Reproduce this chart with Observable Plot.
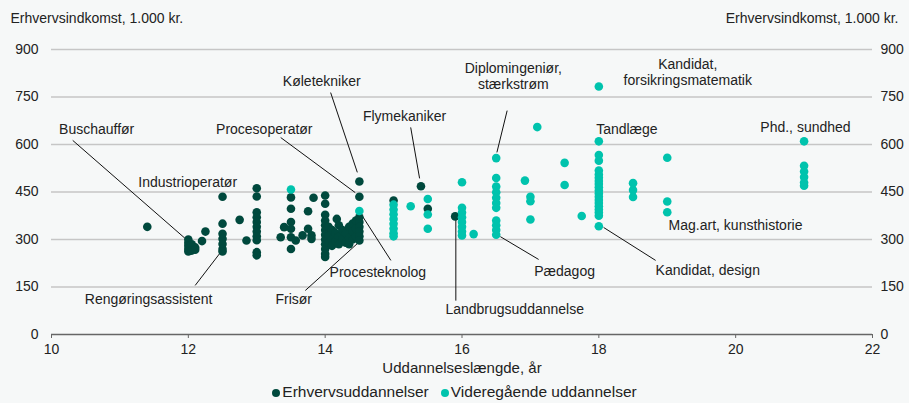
<!DOCTYPE html>
<html>
<head>
<meta charset="utf-8">
<script src="https://cdn.jsdelivr.net/npm/d3@7"></script>
<script src="https://cdn.jsdelivr.net/npm/@observablehq/plot@0.6"></script>
<style>
  html, body { margin: 0; padding: 0; background: #f6f8f8; }
  body { width: 909px; height: 403px; overflow: hidden; font-family: "Liberation Sans", Arial, sans-serif; }
  #legend { height: 23px; display: flex; justify-content: center; align-items: center; font-size: 15.5px; color: #222; gap: 12px; }
  #legend span.dot { display: inline-block; width: 8px; height: 8px; border-radius: 50%; margin-right: 2px; }
</style>
</head>
<body>
<div id="chart"></div>
<div id="legend"></div>
<script>
// ---- data ----
const seriesNames = ["Erhvervsuddannelser", "Videregående uddannelser"];
const seriesColors = ["#00493d", "#00c3ad"];

const xTicks = [10, 12, 14, 16, 18, 20, 22];
const yTicks = [0, 150, 300, 450, 600, 750, 900];

// [uddannelseslængde (år), erhvervsindkomst (1.000 kr.)]
const erhvervsuddannelser = [
  [11.4, 340],
  [12.0, 300], [12.0, 290], [12.0, 280], [12.0, 270], [12.0, 262],
  [12.05, 285], [12.05, 265], [12.1, 275], [12.1, 268], [12.2, 295], [12.25, 325],
  [12.5, 435], [12.5, 350], [12.5, 318], [12.5, 302], [12.5, 286], [12.5, 270], [12.5, 262],
  [12.75, 362], [12.85, 297],
  [13.0, 462], [13.0, 436], [13.0, 386], [13.0, 370], [13.0, 355], [13.0, 340], [13.0, 325], [13.0, 310], [13.0, 298], [13.0, 260], [13.0, 250],
  [13.35, 307], [13.4, 339],
  [13.5, 433], [13.5, 397], [13.5, 355], [13.5, 334], [13.5, 307], [13.5, 270],
  [13.57, 297], [13.67, 313], [13.75, 389], [13.75, 334], [13.8, 313], [13.8, 302], [13.83, 432],
  [14.0, 439], [14.0, 413], [14.0, 378], [14.0, 360], [14.0, 345], [14.0, 330], [14.0, 315], [14.0, 300], [14.0, 285], [14.0, 270], [14.0, 255], [14.0, 245],
  [14.05, 340], [14.05, 310], [14.05, 290], [14.1, 330], [14.1, 300], [14.1, 280],
  [14.15, 320], [14.15, 295], [14.17, 365], [14.2, 345], [14.2, 310], [14.2, 285],
  [14.25, 330], [14.25, 300], [14.3, 320], [14.3, 290], [14.35, 340], [14.35, 305], [14.35, 285],
  [14.4, 350], [14.4, 325], [14.4, 300], [14.45, 360], [14.45, 335], [14.45, 310],
  [14.5, 483], [14.5, 435], [14.5, 370], [14.5, 355], [14.5, 340], [14.5, 325], [14.5, 310], [14.5, 297],
  [15.0, 423], [15.4, 468], [15.5, 397], [15.9, 373]
];

const videregaaende = [
  [13.5, 458], [14.5, 390],
  [15.0, 410], [15.0, 395], [15.0, 380], [15.0, 365], [15.0, 350], [15.0, 335], [15.0, 320], [15.0, 310],
  [15.25, 405], [15.5, 428], [15.5, 379], [15.5, 334],
  [16.0, 481], [16.0, 400], [16.0, 385], [16.0, 370], [16.0, 355], [16.0, 340], [16.0, 325], [16.0, 313],
  [16.17, 317],
  [16.5, 557], [16.5, 494], [16.5, 467], [16.5, 449], [16.5, 432], [16.5, 415], [16.5, 400], [16.5, 360], [16.5, 345], [16.5, 330], [16.5, 315],
  [16.92, 486], [17.0, 435], [17.0, 421], [17.0, 363], [17.1, 655],
  [17.5, 542], [17.5, 472], [17.75, 374],
  [18.0, 783], [18.0, 610], [18.0, 567], [18.0, 549], [18.0, 518], [18.0, 505], [18.0, 495], [18.0, 485], [18.0, 475], [18.0, 465], [18.0, 455], [18.0, 445], [18.0, 435], [18.0, 425], [18.0, 415], [18.0, 405], [18.0, 395], [18.0, 385], [18.0, 375], [18.0, 342],
  [18.5, 478], [18.5, 456], [18.5, 434],
  [19.0, 558], [19.0, 420], [19.0, 386],
  [21.0, 610], [21.0, 533], [21.0, 515], [21.0, 497], [21.0, 480], [21.0, 470]
];

// centred annotation labels: [text, x, y]
const labelsCentered = [
  ["Buschauffør", 10.66, 650],
  ["Industrioperatør", 11.99, 483],
  ["Procesoperatør", 13.11, 650],
  ["Køletekniker", 13.95, 802],
  ["Flymekaniker", 15.16, 690],
  ["Diplomingeniør,\nstærkstrøm", 16.75, 818],
  ["Kandidat,\nforsikringsmatematik", 19.3, 830],
  ["Tandlæge", 18.41, 650],
  ["Phd., sundhed", 21.02, 657],
  ["Pædagog", 17.5, 202],
  ["Landbrugsuddannelse", 16.77, 82],
  ["Procesteknolog", 14.77, 199],
  ["Frisør", 13.54, 114],
  ["Rengøringsassistent", 11.42, 114]
];
// left-aligned annotation labels: [text, x, y]
const labelsStart = [
  ["Mag.art, kunsthistorie", 19.02, 344],
  ["Kandidat, design", 18.83, 202]
];

// leader lines: [x1, y1, x2, y2]
const leaders = [
  [10.31, 613, 11.95, 304],
  [13.35, 622, 14.44, 448],
  [14.08, 764, 14.47, 512],
  [15.25, 654, 15.38, 493],
  [16.66, 707, 16.51, 575],
  [18.07, 338, 18.83, 234],
  [16.56, 309, 17.12, 237],
  [15.91, 366, 15.91, 107],
  [14.52, 382, 14.96, 234],
  [13.71, 139, 14.47, 287],
  [12.1, 155, 12.47, 259]
];

const yTitle = "Erhvervsindkomst, 1.000 kr.";
const xTitle = "Uddannelseslængde, år";

// ---- chart ----
const font = "'Liberation Sans', Arial, sans-serif";
const fs = 14;
const chart = Plot.plot({
  width: 909,
  height: 380,
  marginLeft: 51,
  marginRight: 37,
  marginTop: 49,
  marginBottom: 46,
  style: { background: "transparent", fontFamily: font, fontSize: fs + "px", color: "#222", overflow: "visible" },
  x: { domain: [10, 22] },
  y: { domain: [0, 900] },
  marks: [
    Plot.gridY(yTicks.filter(d => d > 0), { stroke: "#c6c6c6", strokeOpacity: 1, strokeWidth: 1.5 }),
    Plot.ruleY([0], { stroke: "#666", strokeWidth: 1.5 }),
    Plot.axisX(xTicks, { tickSize: 4, tickPadding: 6, stroke: "#666", label: null, fill: "#222", fontSize: fs }),
    Plot.axisY(yTicks, { anchor: "left", tickSize: 0, tickPadding: 13, label: null, fill: "#222", fontSize: fs }),
    Plot.axisY(yTicks, { anchor: "right", tickSize: 0, tickPadding: 8, label: null, fill: "#222", fontSize: fs }),
    Plot.link(leaders, { x1: d => d[0], y1: d => d[1], x2: d => d[2], y2: d => d[3], stroke: "#111", strokeWidth: 1 }),
    Plot.dot(erhvervsuddannelser, { x: d => d[0], y: d => d[1], r: 4.3, fill: seriesColors[0], stroke: "none" }),
    Plot.dot(videregaaende, { x: d => d[0], y: d => d[1], r: 4.3, fill: seriesColors[1], stroke: "none" }),
    Plot.text(labelsCentered, { x: d => d[1], y: d => d[2], text: d => d[0], textAnchor: "middle", fill: "#222", fontSize: fs, lineHeight: 1.15 }),
    Plot.text(labelsStart, { x: d => d[1], y: d => d[2], text: d => d[0], textAnchor: "start", fill: "#222", fontSize: fs }),
    Plot.text([yTitle], { frameAnchor: "top-left", dx: -41, dy: -31, lineAnchor: "middle", textAnchor: "start", fill: "#222", fontSize: fs }),
    Plot.text([yTitle], { frameAnchor: "top-right", dx: 26, dy: -31, lineAnchor: "middle", textAnchor: "end", fill: "#222", fontSize: fs }),
    Plot.text([xTitle], { frameAnchor: "bottom", dy: 34, lineAnchor: "middle", fill: "#222", fontSize: 15 })
  ]
});
document.getElementById("chart").append(chart);

const legend = document.getElementById("legend");
seriesNames.forEach((name, i) => {
  const item = document.createElement("span");
  const dot = document.createElement("span");
  dot.className = "dot";
  dot.style.background = seriesColors[i];
  item.append(dot, document.createTextNode(name));
  legend.append(item);
});
</script>
</body>
</html>
